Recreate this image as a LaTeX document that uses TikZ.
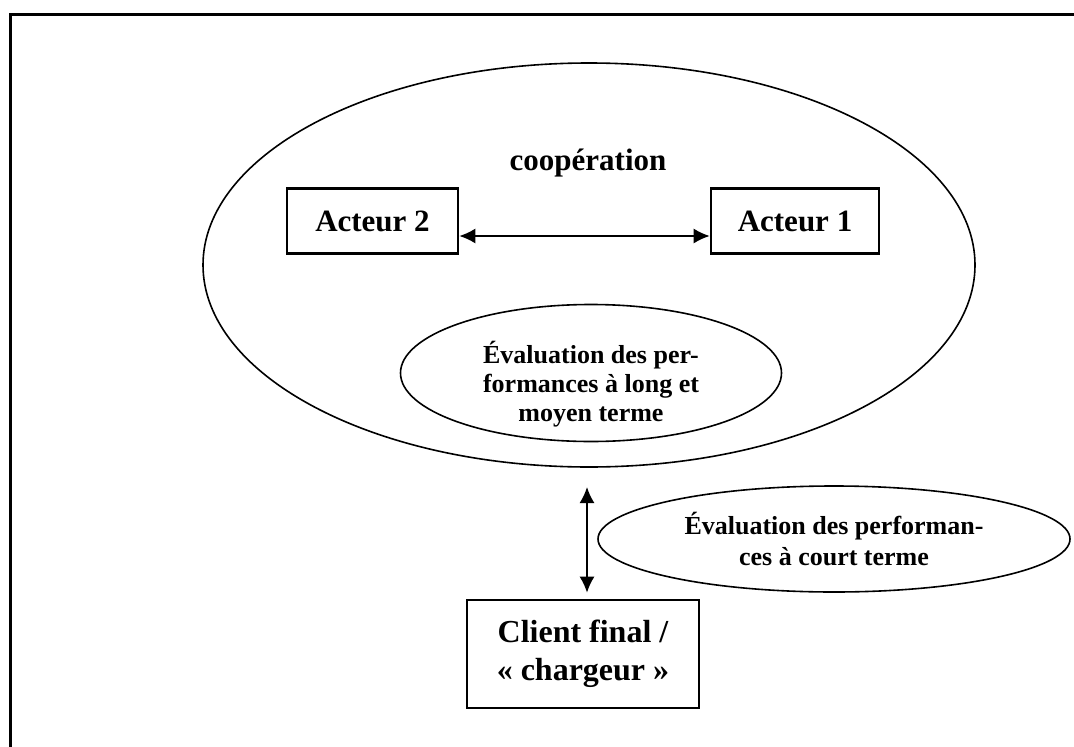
\documentclass[tikz,border=0pt]{standalone}
\usepackage{fontspec}
\setmainfont{Liberation Serif}
\usetikzlibrary{shapes.geometric,arrows.meta}
\begin{document}
\begin{tikzpicture}[x=1pt,y=-1pt,
  every node/.style={font=\bfseries},
  boxnode/.style={draw,line width=2.6pt,rectangle,inner sep=0pt,align=center},
  ellnode/.style={draw,line width=1.6pt,ellipse,inner sep=0pt,align=center},
  biarrow/.style={line width=1.8pt,{Latex[length=16pt,width=15pt]}-{Latex[length=16pt,width=15pt]}}
]
\useasboundingbox (0,0) rectangle (1074,747);
% cropped outer frame
\draw[line width=3pt] (10,747) -- (10,14) -- (1074,14);

% cooperation ellipse
\node[ellnode,minimum width=772pt,minimum height=404pt] (coop) at (589,265) {};
\node[font=\bfseries\fontsize{31}{36}\selectfont] (cooptxt) at (588,163) {coopération};

% actors
\node[boxnode,minimum width=171pt,minimum height=65pt,font=\bfseries\fontsize{31}{36}\selectfont] (a2) at (372.5,221) {Acteur 2};
\node[boxnode,minimum width=168pt,minimum height=65pt,font=\bfseries\fontsize{31}{36}\selectfont] (a1) at (795,221) {Acteur 1};
\draw[biarrow] ([yshift=-15pt]a2.east) -- ([yshift=-15pt]a1.west);

% long-term evaluation
\node[ellnode,minimum width=381pt,minimum height=137pt] (lt) at (591,373) {};
\node[align=center,font=\bfseries\fontsize{26}{29}\selectfont] (lttxt) at (591,384)
  {Évaluation des per-\\formances à long et\\moyen terme};

% short-term evaluation
\node[ellnode,minimum width=472pt,minimum height=106pt,font=\bfseries\fontsize{26}{31}\selectfont] (st) at (834,539)
  {Évaluation des performan-\\ces à court terme};

% final client
\node[boxnode,minimum width=232pt,minimum height=108pt,font=\bfseries\fontsize{32}{38}\selectfont] (cl) at (583,654)
  {Client final /\\« chargeur »};

\coordinate (vt) at (587,487);
\draw[biarrow,shorten >=6pt] (vt) -- (vt |- cl.north);
\end{tikzpicture}
\end{document}
